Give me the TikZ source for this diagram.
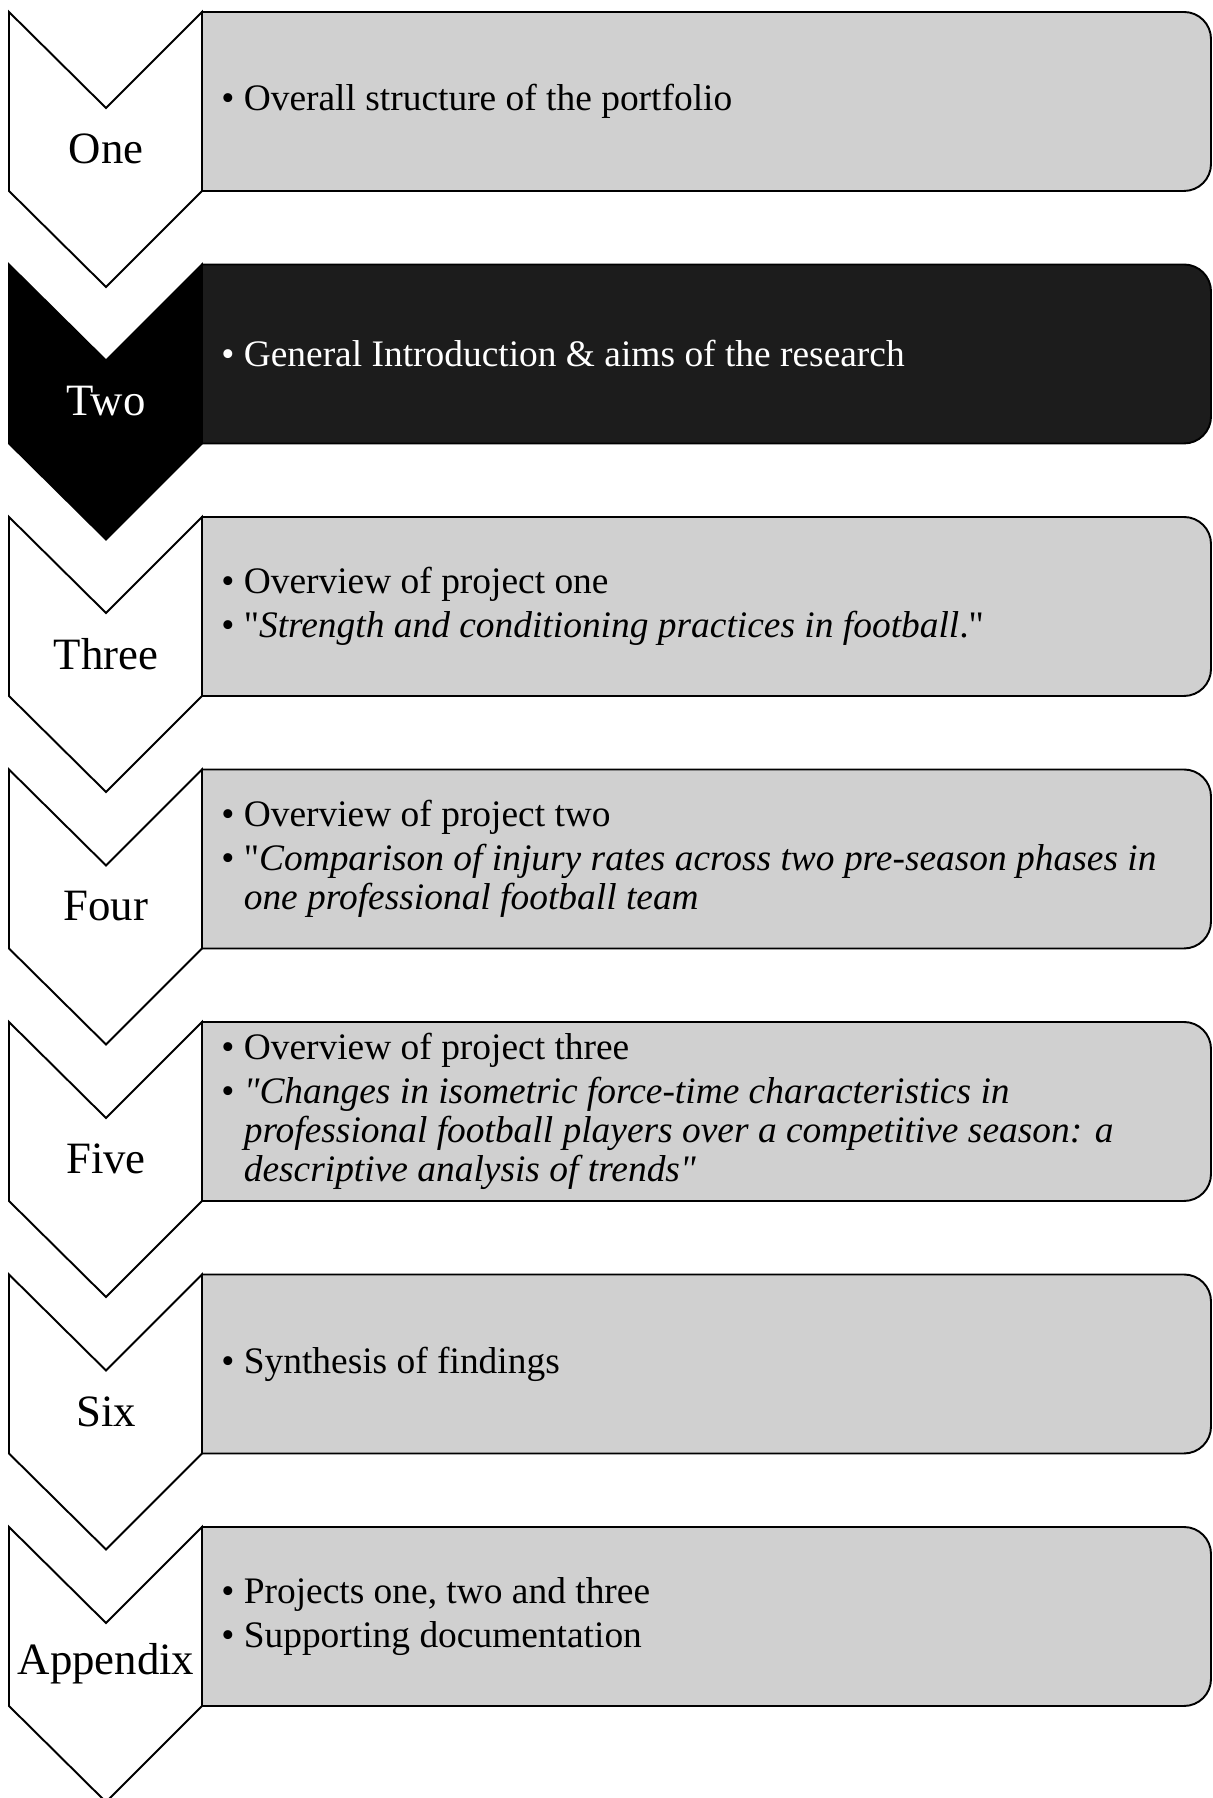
\documentclass[tikz,border=0pt]{standalone}
\usepackage{fontspec}
\setmainfont{Liberation Serif}[Ligatures=TeXOff]
\usepackage{tikz}
\usetikzlibrary{positioning}
\definecolor{boxgray}{HTML}{D0D0D0}
\definecolor{boxdark}{HTML}{1C1C1C}
\newcommand{\itm}{\textbullet\ }
\newcommand{\cont}{\phantom{\textbullet\ }}

\begin{document}
\begin{tikzpicture}[x=0.02cm, y=0.02cm,
  chev/.style={draw=black, line width=1.1pt, line join=miter},
  infobox/.style={draw=black, line width=1.1pt},
  stagelbl/.style={font=\fontsize{25.5}{30}\selectfont, inner sep=0pt},
  bullets/.style={font=\fontsize{21.3}{22.1}\selectfont, align=left, anchor=west, inner sep=0pt}]
\useasboundingbox (0,0) rectangle (1213,1798);
% one chevron + box per stage, \ytop is the top edge of the row
\foreach \i/\name/\tag/\cfill/\bfill/\tcol in {0/One/one/white/boxgray/black, 1/Two/two/black/boxdark/white, 2/Three/three/white/boxgray/black, 3/Four/four/white/boxgray/black, 4/Five/five/white/boxgray/black, 5/Six/six/white/boxgray/black, 6/Appendix/app/white/boxgray/black}{
  \pgfmathsetmacro{\ytop}{1786-252.5*\i}
  \draw[chev, fill=\cfill] (9,\ytop) -- (106,\ytop-96) -- (202,\ytop) -- (202,\ytop-179) -- (106,\ytop-275) -- (9,\ytop-179) -- cycle;
  \draw[infobox, fill=\bfill] (202,\ytop) -- (1184,\ytop) arc[start angle=90, end angle=0, radius=0.54cm] -- (1211,\ytop-152) arc[start angle=0, end angle=-90, radius=0.54cm] -- (202,\ytop-179) -- cycle;
  \node[stagelbl, text=\tcol] (lbl-\tag) at (106,\ytop-137) {\name};
  \coordinate (txt-\tag) at (221,\ytop-89.5);
}

% bullet texts
\node[bullets] (items-one) at (txt-one) {\itm Overall structure of the portfolio};
\node[bullets, text=white] (items-two) at (txt-two) {\itm General Introduction \& aims of the research};
\node[bullets] (items-three) at (txt-three) {\itm Overview of project one\\[2.8pt]
  \itm "\textit{Strength and conditioning practices in football}."};
\node[bullets] (items-four) at (txt-four) {\itm Overview of project two\\[2.8pt]
  \itm "\textit{Comparison of injury rates across two pre-season phases in}\\
  \cont\textit{one professional football team}};
\node[bullets] (items-five) at (txt-five) {\itm Overview of project three\\[2.8pt]
  \itm \textit{"Changes in isometric force-time characteristics in}\\
  \cont\textit{professional football players over a competitive season: a}\\
  \cont\textit{descriptive analysis of trends"}};
\node[bullets] (items-six) at (txt-six) {\itm Synthesis of findings};
\node[bullets] (items-app) at (txt-app) {\itm Projects one, two and three\\[2.8pt]
  \itm Supporting documentation};
\end{tikzpicture}
\end{document}
